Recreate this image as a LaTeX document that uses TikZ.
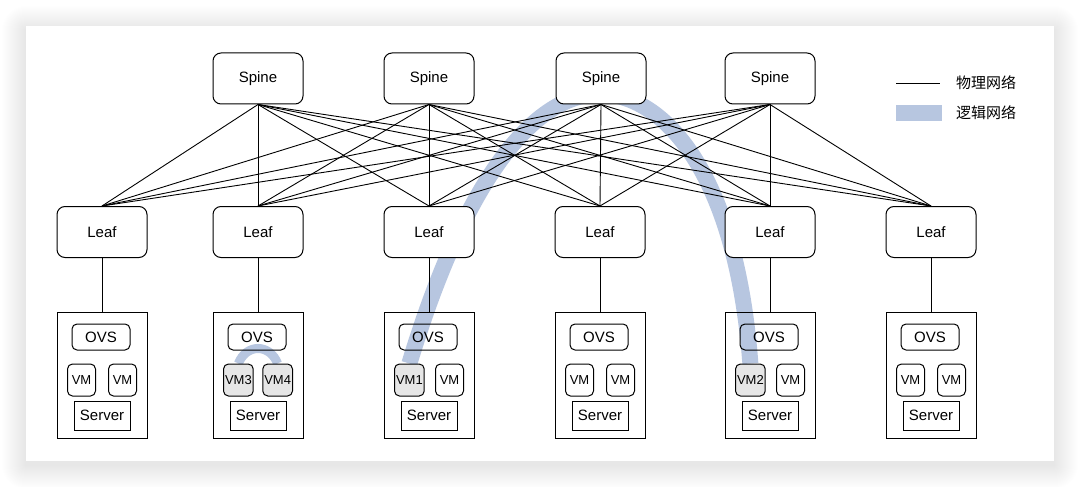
\documentclass[tikz,border=0pt]{standalone}
\usepackage{fontspec}
\setmainfont{Liberation Sans}
\newfontfamily\cjk{Noto Sans CJK SC}
\usetikzlibrary{calc}
\definecolor{bandblue}{RGB}{183,198,224}
\definecolor{vmgray}{RGB}{230,230,230}
\pgfdeclarelayer{bg}
\pgfsetlayers{bg,main}
\begin{document}
\begin{tikzpicture}[x=1pt,y=-1pt,
  netbox/.style={draw, line width=1pt, rounded corners=8pt, fill=white, minimum width=90pt, minimum height=51pt, inner sep=0pt, font=\fontsize{15}{17}\selectfont},
  srvbox/.style={draw, line width=1pt, minimum width=90pt, minimum height=126pt, inner sep=0pt},
  ovsbox/.style={draw, line width=1pt, rounded corners=5pt, minimum width=58pt, minimum height=26pt, inner sep=0pt, font=\fontsize{15}{17}\selectfont},
  vmbox/.style={draw, line width=1pt, rounded corners=5pt, fill=white, minimum width=28pt, minimum height=32pt, inner xsep=1.5pt, inner ysep=0pt, font=\fontsize{13}{15}\selectfont},
  vmsel/.style={vmbox, fill=vmgray},
  hwbox/.style={draw, line width=1pt, minimum width=56pt, minimum height=29pt, inner sep=0pt, font=\fontsize{15}{17}\selectfont},
  link/.style={line width=0.9pt},
  logic/.style={draw=bandblue, line width=16pt},
  legtext/.style={anchor=west, inner sep=0pt, font=\cjk\fontsize{15}{17}\selectfont}
]
\useasboundingbox (0,0) rectangle (1080,487);

% Spines
\foreach \i/\x in {1/258,2/429,3/601,4/770}
  \node[netbox] (spine\i) at (\x,78.5) {Spine};

% Leaves, servers
\foreach \i/\x/\la/\lb/\sa/\sb in {1/102/VM/VM/vmbox/vmbox,2/258/VM3/VM4/vmsel/vmsel,3/429/VM1/VM/vmsel/vmbox,4/600/VM/VM/vmbox/vmbox,5/770/VM2/VM/vmsel/vmbox,6/931/VM/VM/vmbox/vmbox}{
  \node[netbox] (leaf\i) at (\x,232) {Leaf};
  \node[srvbox] (srv\i) at (\x,375) {};
  \node[ovsbox] (ovs\i) at ({\x-1},337) {OVS};
  \node[\sa, anchor=west] (vma\i) at ({\x-35},380) {\la};
  \node[\sb, anchor=east] (vmb\i) at ({\x+35},380) {\lb};
  \node[hwbox] (hw\i) at (\x,415.5) {Server};
  \draw[link] (leaf\i.south) -- (srv\i.north);
}

% Full mesh spine-leaf
\foreach \s in {1,...,4}
  \foreach \l in {1,...,6}
    \draw[link] (spine\s.south) -- (leaf\l.north);

% Legend
\coordinate (lgA) at (896,83);
\coordinate (lgB) at (940,83);
\draw[link] (lgA) -- (lgB);
\node[legtext] (lgt1) at (956,83) {物理网络};
\node[fill=bandblue, minimum width=46pt, minimum height=16pt, inner sep=0pt] (lgband) at (919,113) {};
\node[legtext] (lgt2) at (956,113) {逻辑网络};

\begin{pgfonlayer}{bg}
  \fill[white] (0,0) rectangle (1080,487);
  \foreach \k in {1,...,24}
    \fill[black, opacity=0.0035, rounded corners=\k pt] ({26-\k},{26-\k+4}) rectangle ({1054+\k},{461+\k+4});
  \fill[white] (26,26) rectangle (1054,461);
  \coordinate (peak) at (600,94);
  \draw[logic] (vma3.north) .. controls (468,170) and (538,94) .. (peak)
               .. controls (662,94) and (736,170) .. (vma5.north);
  \draw[draw=bandblue, line width=9pt] (vma2.north) .. controls ($(vma2.north)+(8,-20)$) and ($(vmb2.north)+(-8,-20)$) .. (vmb2.north);
\end{pgfonlayer}
\end{tikzpicture}
\end{document}
